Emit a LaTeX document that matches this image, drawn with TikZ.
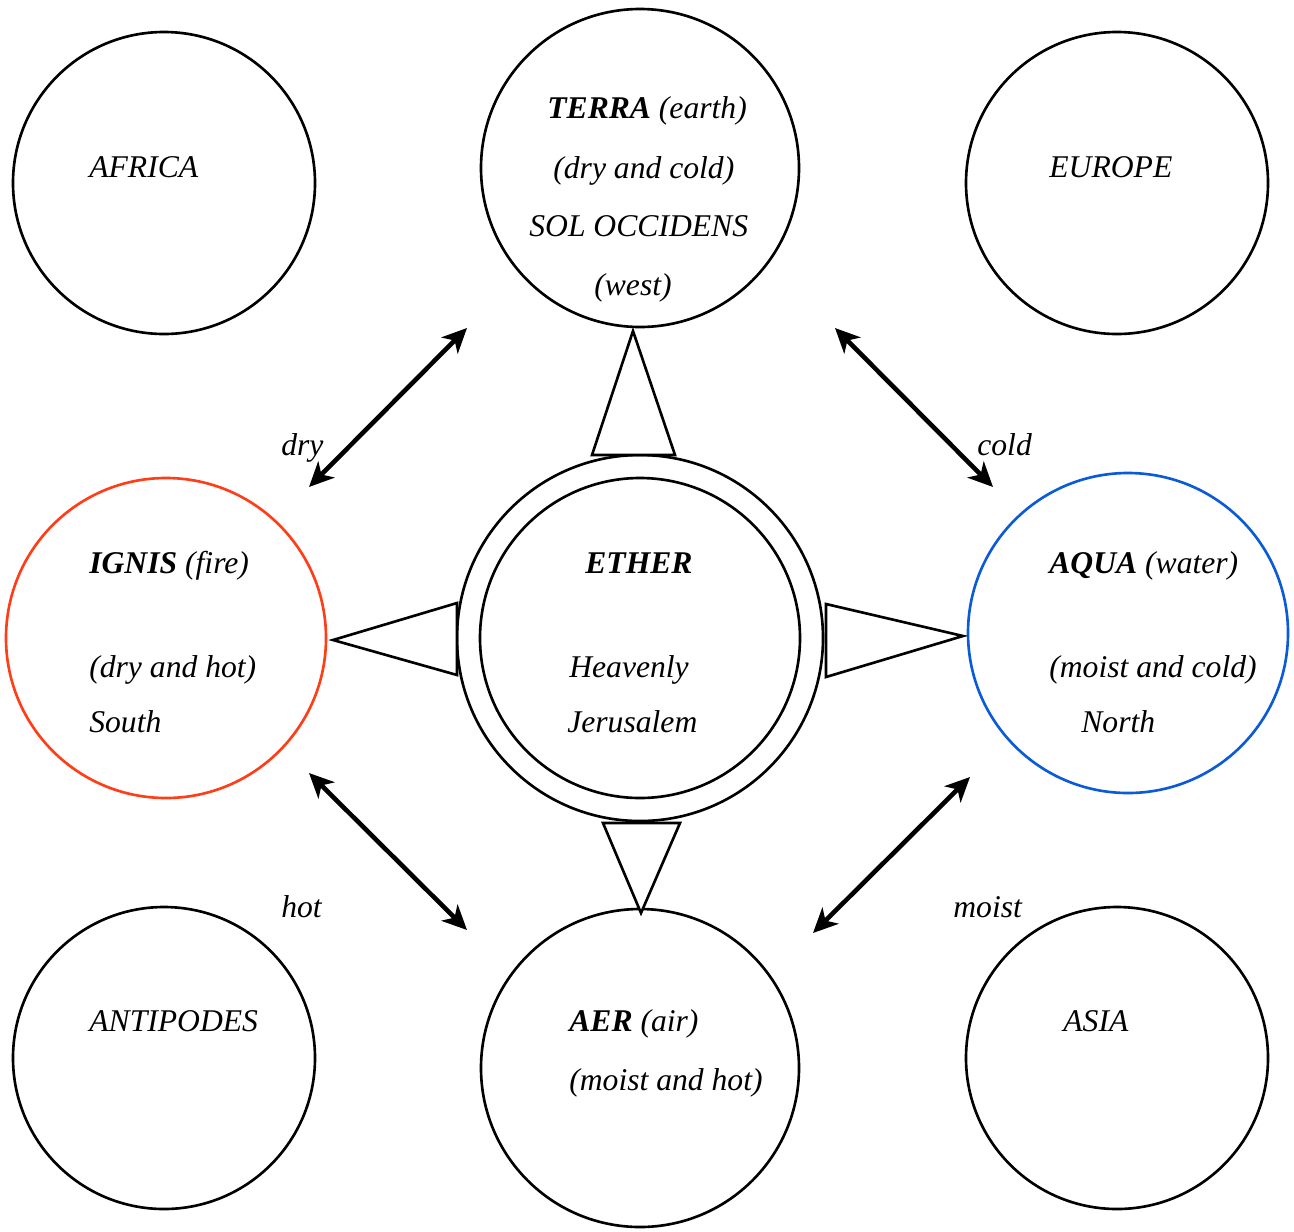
\documentclass[tikz,border=0pt]{standalone}
\usepackage{fontspec}
\setmainfont{Liberation Serif}[
    UprightFont=*,
    BoldFont=* Bold,
    ItalicFont=* Italic,
    BoldItalicFont=* Bold Italic]
\usetikzlibrary{arrows.meta}
\definecolor{ignisred}{HTML}{FF3D17}
\definecolor{aquablue}{HTML}{0B5BD9}
\tikzset{
    ring/.style={line width=1.5pt},
    lbl/.style={anchor=base west, inner sep=0pt, font=\fontsize{18}{20}\selectfont\itshape},
    pairarrow/.style={line width=2.6pt, {Stealth[length=14pt,width=13pt,inset=4pt]}-{Stealth[length=14pt,width=13pt,inset=4pt]}}
}
\begin{document}
\begin{tikzpicture}[x=0.02cm, y=-0.02cm]
            \useasboundingbox (0, 0) rectangle (1294, 1231);
            \coordinate (Af) at (164, 183);
            \coordinate (Te) at (640, 168);
            \coordinate (Eu) at (1117, 183);
            \coordinate (Ig) at (166, 638);
            \coordinate (Et) at (640, 638);
            \coordinate (Aq) at (1128, 633);
            \coordinate (An) at (164, 1058);
            \coordinate (Ae) at (640, 1068);
            \coordinate (As) at (1117, 1058);

            \draw[ring] (Af) circle[radius=151];
            \draw[ring] (Te) circle[radius=159];
            \draw[ring] (Eu) circle[radius=151];
            \draw[ring, ignisred] (Ig) circle[radius=160];
            \draw[ring] (Et) circle[radius=183];
            \draw[ring] (Et) circle[radius=160];
            \draw[ring, aquablue] (Aq) circle[radius=160];
            \draw[ring] (An) circle[radius=151];
            \draw[ring] (Ae) circle[radius=159];
            \draw[ring] (As) circle[radius=151];

            % pointers round the ether
            \draw[ring, fill=white] (633, 331) -- (592, 455) -- (675, 455) -- cycle;
            \draw[ring, fill=white] (333, 640) -- (457, 603) -- (457, 675) -- cycle;
            \draw[ring, fill=white] (963, 636) -- (826, 604) -- (826, 677) -- cycle;
            \draw[ring, fill=white] (641, 913) -- (603, 823) -- (680, 823) -- cycle;

            \coordinate (d1) at (309, 487);
            \coordinate (d2) at (467, 328);
            \coordinate (c1) at (835, 328);
            \coordinate (c2) at (993, 487);
            \coordinate (h1) at (309, 773);
            \coordinate (h2) at (467, 930);
            \coordinate (m1) at (970, 777);
            \coordinate (m2) at (813, 933);
            \draw[pairarrow] (d1) -- (d2);
            \draw[pairarrow] (c1) -- (c2);
            \draw[pairarrow] (h1) -- (h2);
            \draw[pairarrow] (m1) -- (m2);

            \node[lbl] (af) at (89, 177) {AFRICA};
            \node[lbl] (te1) at (547, 118) {\textbf{TERRA} (earth)};
            \node[lbl] (te2) at (553, 178) {(dry and cold)};
            \node[lbl] (te3) at (529, 236) {SOL OCCIDENS};
            \node[lbl] (te4) at (594, 295) {(west)};
            \node[lbl] (eu) at (1049, 177) {EUROPE};
            \node[lbl] (ig1) at (89, 573) {\textbf{IGNIS} (fire)};
            \node[lbl] (ig2) at (89, 677) {(dry and hot)};
            \node[lbl] (ig3) at (89, 732) {South};
            \node[lbl] (et1) at (585, 573) {\textbf{ETHER}};
            \node[lbl] (et2) at (569, 677) {Heavenly};
            \node[lbl] (et3) at (567, 732) {Jerusalem};
            \node[lbl] (aq1) at (1049, 573) {\textbf{AQUA} (water)};
            \node[lbl] (aq2) at (1049, 677) {(moist and cold)};
            \node[lbl] (aq3) at (1081, 732) {North};
            \node[lbl] (an) at (89, 1031) {ANTIPODES};
            \node[lbl] (ae1) at (569, 1031) {\textbf{AER} (air)};
            \node[lbl] (ae2) at (569, 1090) {(moist and hot)};
            \node[lbl] (as) at (1063, 1031) {ASIA};
            \node[lbl] (dry) at (281, 455) {dry};
            \node[lbl] (cold) at (977, 455) {cold};
            \node[lbl] (hot) at (281, 917) {hot};
            \node[lbl] (moist) at (953, 917) {moist};
        \end{tikzpicture}
\end{document}
